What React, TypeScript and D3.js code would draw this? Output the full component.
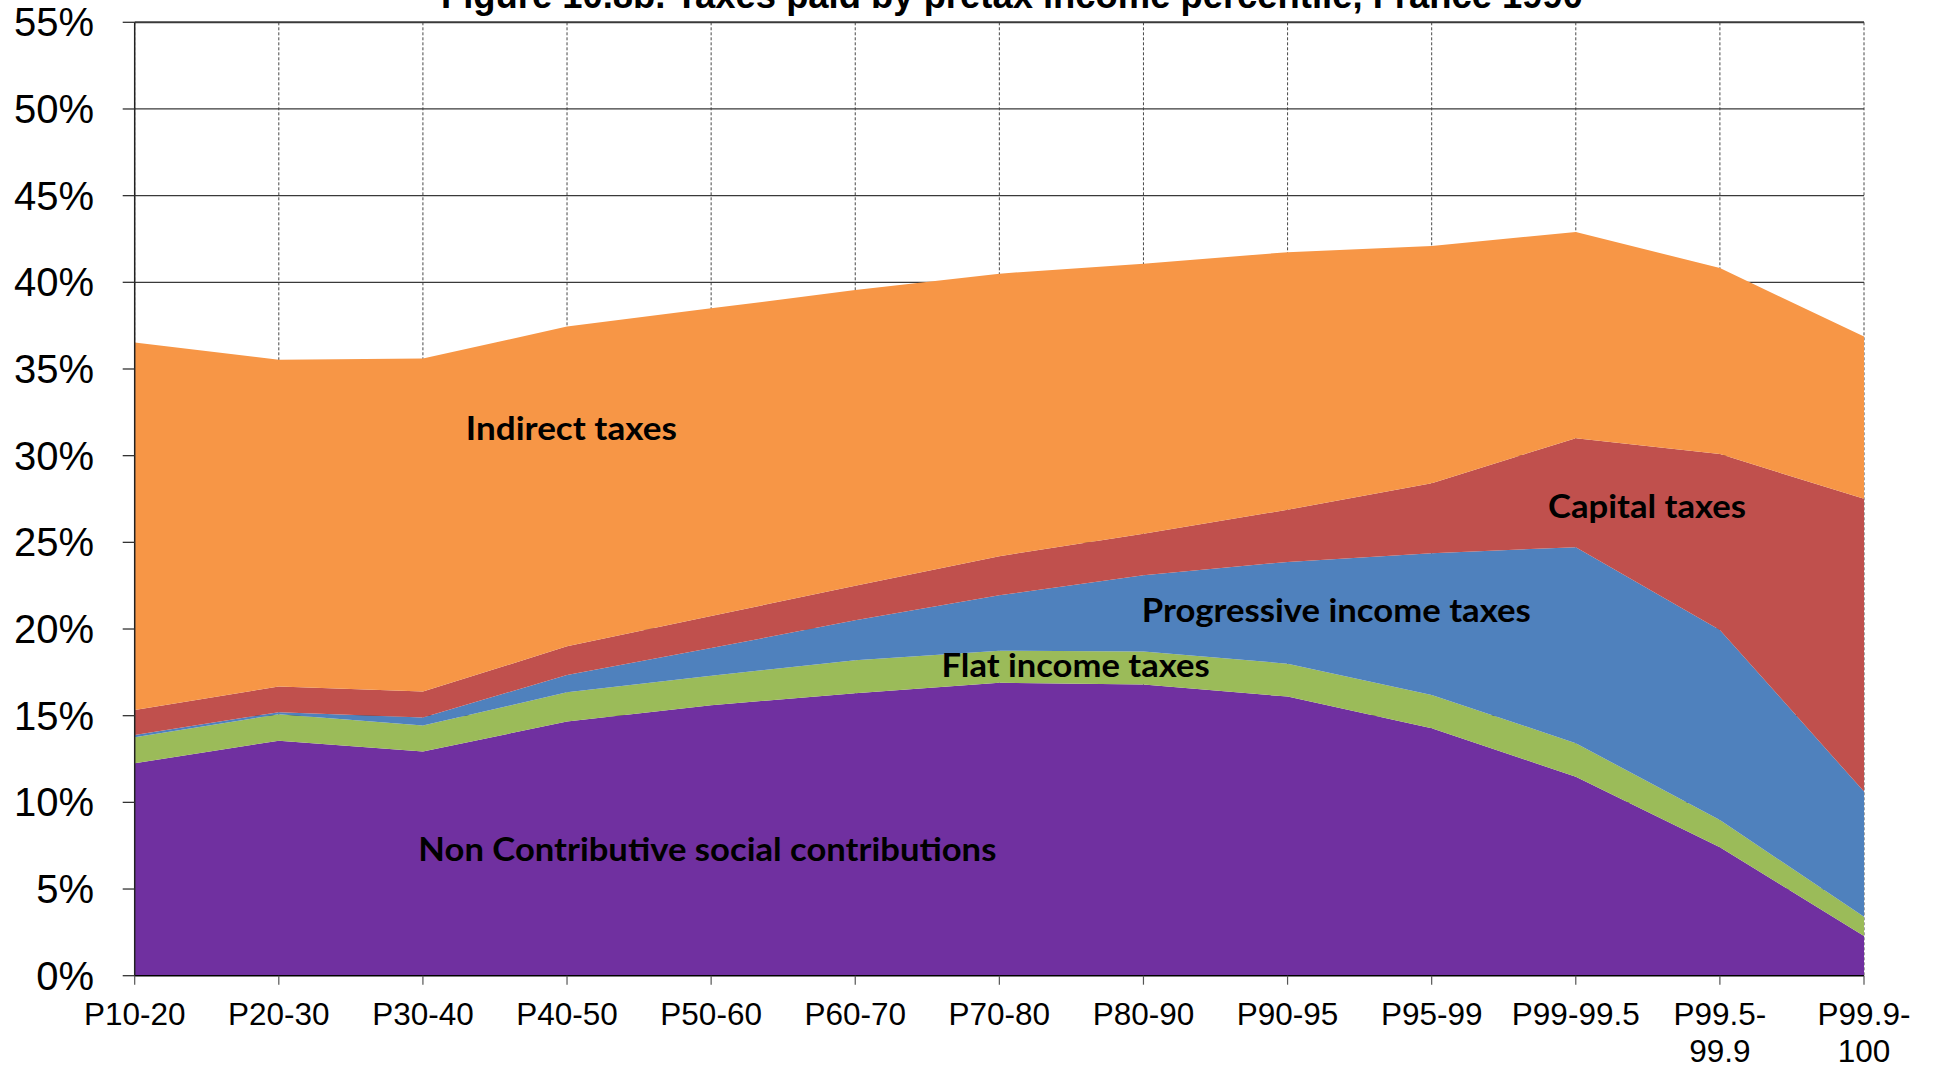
import React from "react";
import * as d3 from "d3";

const categories = ["P10-20","P20-30","P30-40","P40-50","P50-60","P60-70","P70-80","P80-90","P90-95","P95-99","P99-99.5","P99.5-99.9","P99.9-100"];
const tickLines = [["P10-20"],["P20-30"],["P30-40"],["P40-50"],["P50-60"],["P60-70"],["P70-80"],["P80-90"],["P90-95"],["P95-99"],["P99-99.5"],["P99.5-","99.9"],["P99.9-","100"]];

const nonContributive = [12.26, 13.56, 12.93, 14.66, 15.6, 16.3, 16.9, 16.8, 16.1, 14.27, 11.48, 7.41, 2.29];
const flatIncome = [1.50, 1.52, 1.50, 1.69, 1.70, 1.90, 1.85, 1.90, 1.90, 1.93, 1.93, 1.57, 1.11];
const progressiveIncome = [0.13, 0.12, 0.46, 1.00, 1.60, 2.30, 3.20, 4.40, 5.87, 8.17, 11.31, 10.97, 7.22];
const capital = [1.44, 1.48, 1.50, 1.65, 1.85, 2.00, 2.25, 2.40, 3.01, 4.04, 6.29, 10.14, 16.89];
const indirect = [21.2, 18.85, 19.21, 18.45, 17.75, 17.05, 16.3, 15.57, 14.86, 13.69, 11.9, 10.73, 9.36];

const seriesKeys = ["nonContributive","flatIncome","progressiveIncome","capital","indirect"];
const seriesColors = ["#7030A0","#9BBB59","#4F81BD","#C0504D","#F79646"];
const yTicks = [0,5,10,15,20,25,30,35,40,45,50,55];

const labelTexts = ["Indirect taxes","Capital taxes","Progressive income taxes","Flat income taxes","Non Contributive social contributions"];
const labelIdx = [3.03, 10.495, 8.338, 6.529, 3.974];
const labelPct = [30.91, 26.41, 20.41, 17.24, 6.62];
const labelWidths = [211, 198, 389, 268, 578];

const title = "Figure 10.8b. Taxes paid by pretax income percentile, France 1990";

const W = 1934, H = 1067;
const left = 134.7, right = 1864, top = 22.3, bottom = 975.7;

export default function App() {
  const x = d3.scalePoint<string>().domain(categories).range([left, right]).padding(0);
  const xi = d3.scaleLinear().domain([0, categories.length - 1]).range([left, right]);
  const y = d3.scaleLinear().domain([0, 55]).range([bottom, top]);

  const table = categories.map((c, i) => ({
    cat: c,
    nonContributive: nonContributive[i],
    flatIncome: flatIncome[i],
    progressiveIncome: progressiveIncome[i],
    capital: capital[i],
    indirect: indirect[i],
  }));
  const stacked = d3.stack<any>().keys(seriesKeys)(table);
  const area = d3.area<any>()
    .x((d) => x(d.data.cat) as number)
    .y0((d) => y(d[0]))
    .y1((d) => y(d[1]));

  return (
    <div style={{ position: "absolute", left: 0, top: 0, width: W, height: H, overflow: "hidden", background: "#fff" }}>
      <svg width={W} height={H} style={{ display: "block" }}>
        {/* vertical dashed gridlines */}
        {categories.map((c) => (
          <line key={"v" + c} x1={x(c)} x2={x(c)} y1={top} y2={bottom} stroke="#333" strokeWidth={0.9} strokeDasharray="3,2" />
        ))}
        {/* horizontal gridlines */}
        {yTicks.filter((t) => t > 0).map((t) => (
          <line key={"h" + t} x1={left} x2={right} y1={y(t)} y2={y(t)} stroke="#3a3a3a" strokeWidth={t === 55 ? 2 : 1.3} />
        ))}
        {/* areas */}
        {stacked.map((s, i) => (
          <path key={s.key} d={area(s) as string} fill={seriesColors[i]} />
        ))}
        {/* y axis */}
        <line x1={left} x2={left} y1={top} y2={bottom} stroke="#222" strokeWidth={1.5} />
        {yTicks.map((t) => (
          <g key={"yt" + t}>
            <line x1={left - 12} x2={left} y1={y(t)} y2={y(t)} stroke="#333" strokeWidth={1.3} />
            <text x={94} y={y(t) + 14} textAnchor="end" fontFamily="'Liberation Sans', Arial, sans-serif" fontSize={40} fill="#000">{t + "%"}</text>
          </g>
        ))}
        {/* x axis */}
        <line x1={left} x2={right} y1={bottom} y2={bottom} stroke="#000" strokeWidth={1.6} />
        {categories.map((c, i) => (
          <g key={"xt" + c}>
            <line x1={x(c)} x2={x(c)} y1={bottom} y2={bottom + 9} stroke="#555" strokeWidth={1.2} />
            <text x={x(c)} y={1025} textAnchor="middle" fontFamily="'Liberation Sans', Arial, sans-serif" fontSize={31.5} fill="#000">
              {tickLines[i].map((ln, j) => (
                <tspan key={j} x={x(c)} dy={j === 0 ? 0 : 36.7}>{ln}</tspan>
              ))}
            </text>
          </g>
        ))}
        {/* series labels */}
        {labelTexts.map((t, i) => (
          <text key={t} x={xi(labelIdx[i])} y={y(labelPct[i])} textAnchor="middle" fontFamily="Lato, 'Open Sans', sans-serif" fontWeight="bold" fontSize={32} fill="#000" textLength={labelWidths[i]} lengthAdjust="spacingAndGlyphs">{t}</text>
        ))}
        {/* title (clipped at top like the reference) */}
        <text x={1012} y={7.5} textAnchor="middle" fontFamily="'Liberation Sans', Arial, sans-serif" fontWeight="bold" fontSize={36.4} fill="#000">{title}</text>
      </svg>
    </div>
  );
}
